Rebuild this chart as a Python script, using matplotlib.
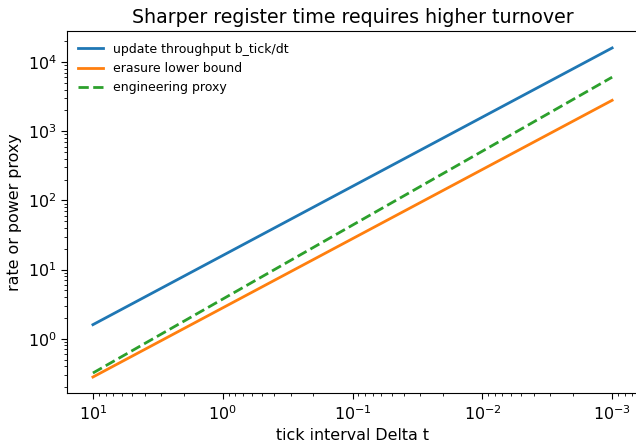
import numpy as np
import matplotlib
matplotlib.use("Agg")
import matplotlib.pyplot as plt

# tick interval (s), read at each decade
dt = [1e1, 1e0, 1e-1, 1e-2, 1e-3]
throughput = [1.6, 16.0, 160.0, 1600.0, 16000.0]
erasure = [0.28, 2.8, 28.0, 280.0, 2800.0]
proxy = [0.32, 3.75, 44.0, 515.0, 6050.0]

s = 1.14
plt.rcParams["font.size"] = 10 * s
plt.rcParams["xtick.major.size"] = 3.5 * s
plt.rcParams["ytick.major.size"] = 3.5 * s
plt.rcParams["xtick.minor.size"] = 2 * s
plt.rcParams["ytick.minor.size"] = 2 * s

fig = plt.figure(figsize=(6.36, 4.48), dpi=100)
ax = fig.add_axes([0.1053, 0.1217, 0.898, 0.808])

ax.loglog(dt, throughput, color="#1f77b4", lw=2, label="update throughput b_tick/dt")
ax.loglog(dt, erasure, color="#ff7f0e", lw=2, label="erasure lower bound")
ax.loglog(dt, proxy, color="#2ca02c", lw=2, ls="--", label="engineering proxy")
ax.invert_xaxis()

ax.set_xlabel("tick interval Delta t")
ax.set_ylabel("rate or power proxy")
ax.set_title("Sharper register time requires higher turnover", fontsize=12 * s)
ax.legend(loc="upper left", frameon=False, fontsize=9)

fig.savefig("out.png", dpi=100)
